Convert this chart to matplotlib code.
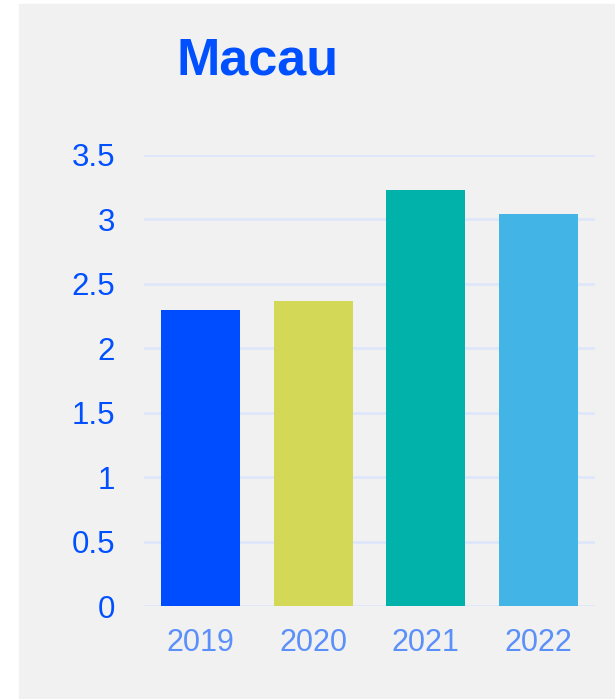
import matplotlib.pyplot as plt
from matplotlib.patches import Rectangle

plt.rcParams['font.family'] = ['Liberation Sans', 'DejaVu Sans']

# 데이터
years = ['2019', '2020', '2021', '2022']
values = [2.30, 2.37, 3.23, 3.04]
colors = ['#004dff', '#d4d857', '#00b2a9', '#42b4e6']
yticks = [0, 0.5, 1, 1.5, 2, 2.5, 3, 3.5]
ytick_labels = ['0', '0.5', '1', '1.5', '2', '2.5', '3', '3.5']

W, H = 615, 699
fig = plt.figure(figsize=(W / 100, H / 100), dpi=100)
fig.patch.set_facecolor('white')
# 회색 배경 패널
fig.patches.append(Rectangle((19 / W, 0), 1 - 19 / W, 1 - 4 / H,
                             transform=fig.transFigure, color='#f1f1f1', zorder=-1))

ax = fig.add_axes([144 / W, (H - 606) / H, (595 - 144) / W, (606 - 155) / H])
ax.set_facecolor('none')

ax.bar(range(len(years)), values, width=0.7, color=colors, zorder=3)

ax.set_xlim(-0.5, len(years) - 0.5)
ax.set_ylim(0, 3.5)
ax.set_yticks(yticks)
ax.set_yticklabels(ytick_labels)
ax.set_xticks(range(len(years)))
ax.set_xticklabels(years)

ax.grid(axis='y', color='#dde6fa', linewidth=2, zorder=0)
ax.tick_params(axis='y', length=0, pad=21, labelsize=22.5, labelcolor='#0050ff')
ax.tick_params(axis='x', length=0, pad=16, labelsize=22, labelcolor='#5b8ff9')
for s in ax.spines.values():
    s.set_visible(False)

fig.text(258 / W, 1 - 61 / H, 'Macau', ha='center', va='center',
         fontsize=37.5, fontweight='bold', color='#0050ff')

plt.savefig('out.png', dpi=100)
